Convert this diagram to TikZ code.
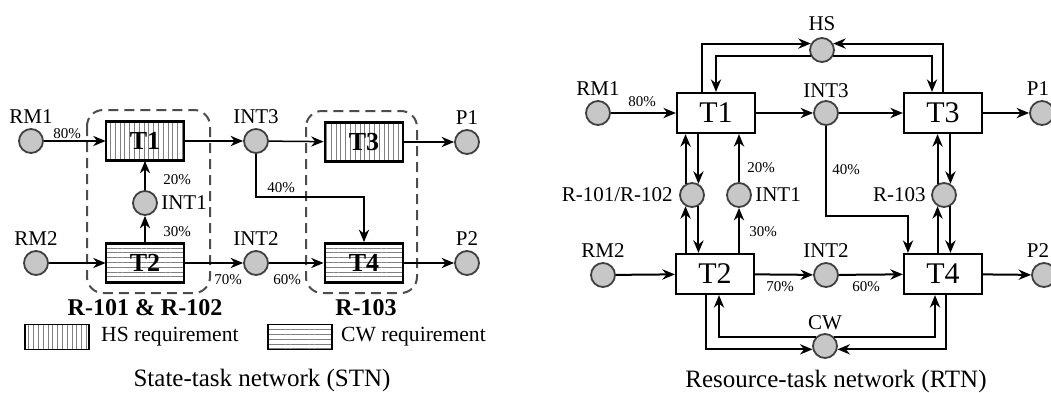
\documentclass[tikz,border=0pt]{standalone}
\usepackage{fontspec}
\setmainfont{Liberation Serif}
\usetikzlibrary{arrows.meta,positioning,calc,patterns.meta}
\tikzset{
  stask/.style={draw, line width=1.4pt, minimum width=39pt, minimum height=19.5pt,
                inner sep=0pt, font=\fontsize{13}{13}\selectfont\bfseries},
  hsreq/.style={pattern={Lines[angle=90, distance=2.4pt, line width=0.35pt]}, pattern color=black!50},
  cwreq/.style={pattern={Lines[angle=0, distance=2.4pt, line width=0.35pt]}, pattern color=black!50},
  rtask/.style={draw, line width=1.1pt, fill=white, minimum width=39pt, minimum height=20pt,
                inner sep=0pt, font=\fontsize{15}{15}\selectfont},
  state/.style={circle, draw=black!75, fill=black!22, line width=0.9pt, minimum size=12pt, inner sep=0pt},
  lbl/.style={font=\fontsize{10.5}{11}\selectfont, inner sep=0pt},
  pct/.style={font=\fontsize{7.5}{8}\selectfont, inner sep=0pt},
  grp/.style={font=\fontsize{12}{12}\selectfont\bfseries, inner sep=0pt},
  key/.style={draw, line width=0.8pt, minimum width=32pt, minimum height=12.5pt, inner sep=0pt},
  keytxt/.style={font=\fontsize{10.8}{11}\selectfont, inner sep=0pt},
  ttl/.style={font=\fontsize{12.5}{13}\selectfont, inner sep=0pt},
  unit/.style={draw=black!70, dash pattern=on 5pt off 3pt, line width=1pt, rounded corners=8pt},
  arr/.style={-{Stealth[length=2.2mm, width=1.8mm]}, line width=0.75pt},
  rarr/.style={-{Stealth[length=2.2mm, width=1.8mm]}, line width=1pt}
}

\begin{document}
\begin{tikzpicture}[x=0.5pt, y=-0.5pt]
\useasboundingbox (0,0) rectangle (1051,392);

% state-task network
\draw[unit] (87,110) rectangle (210,293);
\draw[unit] (306,111) rectangle (417,293);

\node[state] (rm1) at (31,141) {};
\node[state] (rm2) at (36,263) {};
\node[stask, hsreq] (t1) at (145,141) {T1};
\node[state] (int1) at (145,203) {};
\node[stask, cwreq] (t2) at (145,263) {T2};
\node[state] (int3) at (256,141) {};
\node[state] (int2) at (256,263) {};
\node[stask, hsreq] (t3) at (364,142) {T3};
\node[stask, cwreq] (t4) at (364,263) {T4};
\node[state] (p1) at (467,142) {};
\node[state] (p2) at (467,263) {};

\node[lbl, above=2pt of rm1] (rm1-l) {RM1};
\node[lbl, above=2pt of rm2] (rm2-l) {RM2};
\node[lbl, right=1.5pt of int1] (int1-l) {INT1};
\node[lbl, above=2pt of int3] (int3-l) {INT3};
\node[lbl, above=2pt of int2] (int2-l) {INT2};
\node[lbl, above=2pt of p1] (p1-l) {P1};
\node[lbl, above=2pt of p2] (p2-l) {P2};

\node[pct] (s80) at (67,134) {80\%};
\node[pct] (s20) at (177,180) {20\%};
\node[pct] (s30) at (177,232) {30\%};
\node[pct] (s40) at (281,188) {40\%};
\node[pct] (s70) at (228,280) {70\%};
\node[pct] (s60) at (287,280) {60\%};

\draw[arr] (rm1) -- (t1);
\draw[arr] (t1) -- (int3);
\draw[arr] (int3) -- (t3);
\draw[arr] (t3) -- (p1);
\draw[arr] (int1) -- (t1);
\draw[arr] (t2) -- (int1);
\draw[arr] (rm2) -- (t2);
\draw[arr] (t2) -- (int2);
\draw[arr] (int2) -- (t4);
\draw[arr] (t4) -- (p2);
\draw[arr] (int3) |- ([yshift=22.5pt]t4.north) -- (t4.north);

\node[grp] (u12) at (145,308) {R-101 \& R-102};
\node[grp] (u3) at (366,308) {R-103};

\node[key, hsreq] (hs-key) at (57,337) {};
\node[keytxt, right=5.5pt of hs-key] (hs-key-l) {HS requirement};
\node[key, cwreq] (cw-key) at (300,337) {};
\node[keytxt, right=4pt of cw-key] (cw-key-l) {CW requirement};
\node[ttl] (stn) at (262,380) {State-task network (STN)};

% resource-task network
\node[state] (rm1r) at (598,113) {};
\node[rtask] (t1r) at (716,113) {T1};
\node[state] (hs) at (822,50) {};
\node[state] (int3r) at (826,113) {};
\node[rtask] (t3r) at (943,113) {T3};
\node[state] (p1r) at (1042,113) {};
\node[state] (r12) at (692,195) {};
\node[state] (int1r) at (739,195) {};
\node[state] (r3) at (944,195) {};
\node[state] (rm2r) at (603,275) {};
\node[rtask] (t2r) at (715,274) {T2};
\node[state] (int2r) at (826,275) {};
\node[rtask] (t4r) at (943,274) {T4};
\node[state] (p2r) at (1044,275) {};
\node[state] (cw) at (825,346) {};

\node[lbl, above=2pt of rm1r] (rm1r-l) {RM1};
\node[lbl, above=3pt of hs] (hs-l) {HS};
\node[lbl, above=1pt of int3r] (int3r-l) {INT3};
\node[lbl, above=2pt of p1r, xshift=-2pt] (p1r-l) {P1};
\node[lbl, left=3pt of r12] (r12-l) {R-101/R-102};
\node[lbl, right=1.5pt of int1r] (int1r-l) {INT1};
\node[lbl, left=2.5pt of r3] (r3-l) {R-103};
\node[lbl, above=2pt of rm2r] (rm2r-l) {RM2};
\node[lbl, above=2pt of int2r] (int2r-l) {INT2};
\node[lbl, above=2pt of p2r, xshift=-3pt] (p2r-l) {P2};
\node[lbl, above=1.5pt of cw] (cw-l) {CW};

\node[pct] (r80) at (642,102) {80\%};
\node[pct] (r20) at (761,168) {20\%};
\node[pct] (r30) at (763,232) {30\%};
\node[pct] (r40) at (846,170) {40\%};
\node[pct] (r70) at (780,287) {70\%};
\node[pct] (r60) at (866,287) {60\%};

\draw[rarr] (rm1r) -- (t1r);
\draw[rarr] (t1r) -- (int3r);
\draw[rarr] (int3r) -- (t3r);
\draw[rarr] (t3r) -- (p1r);
\draw[rarr] (rm2r) -- (t2r);
\draw[rarr] (t2r) -- (int2r);
\draw[rarr] (int2r) -- (t4r);
\draw[rarr] (t4r) -- (p2r);
\draw[rarr] (int3r) |- ([xshift=-17.5pt, yshift=18.5pt]t4r.north) -- ([xshift=-17.5pt]t4r.north);

\draw[rarr] ([xshift=-7pt]t1r.north) |- (hs.150);
\draw[rarr] (hs.210) -| (t1r.north);
\draw[rarr] (hs.330) -| ([xshift=-5.5pt]t3r.north);
\draw[rarr] (t3r.north) |- (hs.30);

\draw[rarr] (r12.120) -- (r12.120 |- t1r.south);
\draw[rarr] (r12.60 |- t1r.south) -- (r12.60);
\draw[rarr] (r12.240 |- t2r.north) -- (r12.240);
\draw[rarr] (r12.300) -- (r12.300 |- t2r.north);
\draw[rarr] (int1r) -- (int1r |- t1r.south);
\draw[rarr] (int1r |- t2r.north) -- (int1r);
\draw[rarr] (r3.120) -- (r3.120 |- t3r.south);
\draw[rarr] (r3.60 |- t3r.south) -- (r3.60);
\draw[rarr] (r3.240 |- t4r.north) -- (r3.240);
\draw[rarr] (r3.300) -- (r3.300 |- t4r.north);

\draw[rarr] (cw.135) -| ([xshift=2pt]t2r.south);
\draw[rarr] ([xshift=-4.5pt]t2r.south) |- (cw.195);
\draw[rarr] (cw.45) -| ([xshift=-4pt]t4r.south);
\draw[rarr] ([xshift=1.5pt]t4r.south) |- (cw.345);

\node[ttl] (rtn) at (836,381) {Resource-task network (RTN)};
\end{tikzpicture}
\end{document}
